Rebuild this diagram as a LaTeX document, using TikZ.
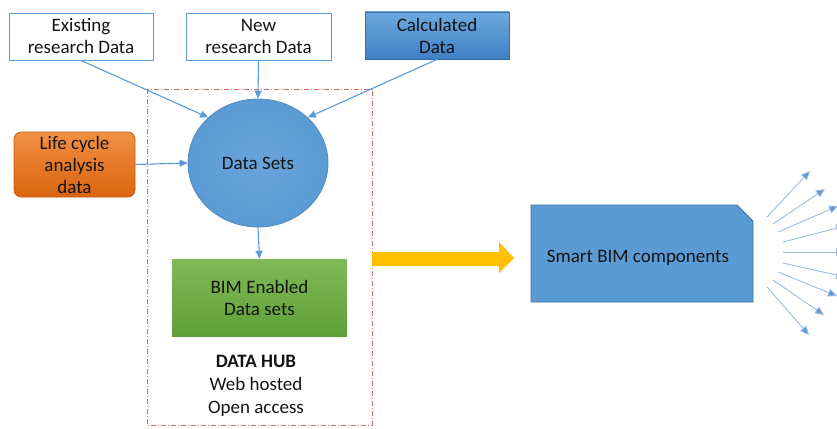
\documentclass[tikz,border=0pt]{standalone}
\usepackage{fontspec}
\setmainfont{Carlito}
\usetikzlibrary{arrows.meta,shapes.geometric}
\definecolor{officeblue}{HTML}{5B9BD5}
\definecolor{darkblue}{HTML}{41719C}
\definecolor{rayblue}{HTML}{9CBCE2}
\definecolor{hubred}{HTML}{D06A6A}
\definecolor{amber}{HTML}{FFC000}
\definecolor{txt}{HTML}{141414}
\definecolor{calctop}{HTML}{6EA9DF}
\definecolor{calcbot}{HTML}{3F80C4}
\definecolor{orangetop}{HTML}{F39043}
\definecolor{orangebot}{HTML}{D9640F}
\definecolor{greentop}{HTML}{80BA56}
\definecolor{greenbot}{HTML}{609F37}
\tikzset{
  every node/.style={font=\fontsize{19}{22}\selectfont, text=txt, align=center},
  srcbox/.style={draw=officeblue, line width=0.9pt, fill=white},
  link/.style={draw=officeblue, line width=1.1pt, -{Triangle[length=8pt,width=7pt]}},
  ray/.style={draw=rayblue, line width=0.9pt, -{Triangle[length=9pt,width=8pt,fill=officeblue]}},
}
\begin{document}
\begin{tikzpicture}[x=1pt,y=-1pt]
\useasboundingbox (0,0) rectangle (837,428);
\clip (0,0) rectangle (837,428);

% data hub boundary
\draw[hubred, line width=0.8pt, dash pattern=on 5pt off 2pt on 1pt off 2pt]
  (147,89) rectangle (372,425);

% source boxes
\node[srcbox, minimum width=144pt, minimum height=47pt] (exist) at (81,36.5) {Existing\\research Data};
\node[srcbox, minimum width=145pt, minimum height=47pt] (new) at (258.5,36.5) {New\\research Data};
\node[draw=calcbot!85!black, line width=0.8pt, top color=calctop, bottom color=calcbot,
      minimum width=144pt, minimum height=47pt] (calc) at (437,35.5) {Calculated\\Data};
\node[draw=orangebot!90!black, line width=0.6pt, top color=orangetop, bottom color=orangebot,
      rounded corners=7pt, minimum width=121pt, minimum height=65pt] (lca) at (74.5,164.5) {Life cycle\\analysis\\data};

% central data sets
\node[ellipse, draw=officeblue!90!black, line width=0.8pt, inner color=officeblue!92!white, outer color=officeblue,
      minimum width=140pt, minimum height=128pt] (sets) at (258,163) {Data Sets};

% BIM enabled data sets
\node[top color=greentop, bottom color=greenbot,
      minimum width=175pt, minimum height=77pt] (bim) at (259.5,297.5) {BIM Enabled\\Data sets};

% hub caption
\node[anchor=north] (hub) at (256,352) {\textbf{DATA HUB}\\[1pt]Web hosted\\[1pt]Open access};

% connectors into the data sets
\draw[link] (exist.south) -- (sets.north west);
\draw[link] (new.south) -- (sets.north);
\draw[link] (calc.south) -- (sets.north east);
\draw[link] (lca.east) -- (sets.west);
\draw[link] (sets.south) -- (bim.north);

% smart BIM components
\draw[fill=officeblue, draw=darkblue, line width=0.9pt]
  (531,205) -- (737,205) -- (753,221) -- (753,302) -- (531,302) -- cycle;
\node (smart) at (638,258) {Smart BIM components};

% yellow block arrow
\fill[amber] (372,252) -- (499,252) -- (499,242) -- (514,258) -- (499,273) -- (499,266) -- (372,266) -- cycle;

% rays out of the components
\foreach \sx/\sy/\ex/\ey in {767/217/810/171, 773/224/825/189, 778/232/838/206, 783/242/845/226,
                             783/252/845/252, 783/263/845/277, 778/272/837/296, 773/280/824/315, 767/287/809/335}{
  \coordinate (rs) at (\sx,\sy);
  \coordinate (re) at (\ex,\ey);
  \draw[ray] (rs) -- (re);
}
\end{tikzpicture}
\end{document}
